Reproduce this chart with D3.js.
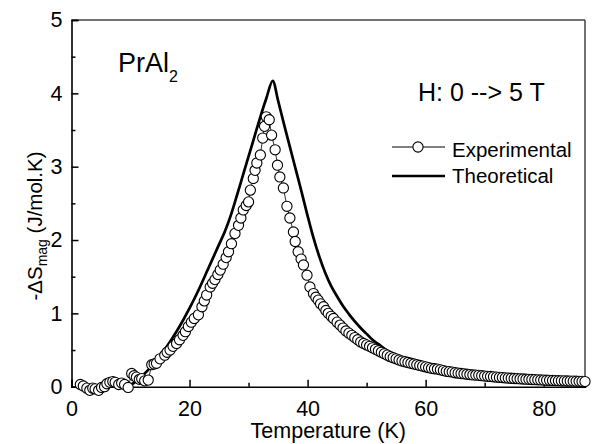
<!DOCTYPE html>
<html>
<head>
<meta charset="utf-8">
<script src="https://cdn.jsdelivr.net/npm/d3@7"></script>
<style>
  html, body { margin: 0; padding: 0; background: #fff; }
  svg { display: block; font-family: "Liberation Sans", Arial, sans-serif; }
</style>
</head>
<body>
<svg id="chart" width="592" height="444"></svg>
<script>
// ---------------- data ----------------
const expT = [1.5,2.0,2.6,3.1,3.6,4.0,4.6,5.1,5.6,6.0,6.5,7.0,7.4,8.0,8.5,9.0,9.6,10.2,10.6,11.0,11.5,11.9,12.4,13.0,
  13.6,14.0,14.4,15.0,15.8,16.2,16.7,17.2,17.8,18.3,18.9,19.3,19.8,20.3,20.8,21.5,22.1,22.5,22.9,23.5,23.9,24.3,24.8,25.2,25.7,26.2,26.6,27.1,27.7,
  28.3,28.7,29.1,29.6,30.0,30.3,30.8,31.1,31.4,32.0,32.4,32.7,33.0,33.5,33.9,34.5,34.9,35.3,35.9,36.5,37.0,
  37.6,37.9,38.4,38.9,39.3,39.9,40.4,41.0,41.4,41.8,42.2,42.7,43.1,43.5,44.0,44.4,45.0,45.5,
  46.0,46.5,47.0,47.5,48.0,48.5,49.0,49.5,50.0,50.5,51.0,51.5,52.0,52.5,53.0,53.5,54.0,54.5,55.0,55.5,56.0,56.5,57.0,57.5,58.0,58.5,59.0,59.5,60.0,60.5,
  61.0,61.5,62.0,62.5,63.0,63.5,64.0,64.5,65.0,65.5,66.0,66.5,67.0,67.5,68.0,68.5,69.0,69.5,70.0,70.5,71.0,71.5,72.0,72.5,73.0,73.5,74.0,74.5,75.0,75.5,
  76.0,76.5,77.0,77.5,78.0,78.5,79.0,79.5,80.0,80.5,81.0,81.5,82.0,82.5,83.0,83.5,84.0,84.5,85.0,85.5,86.0,86.5,87.0];
const expS = [0.03,0.01,-0.02,-0.05,-0.02,-0.03,-0.05,-0.01,0.0,0.04,0.06,0.07,0.06,0.03,0.05,0.03,-0.01,0.18,0.15,0.13,0.10,0.11,0.08,0.09,
  0.30,0.31,0.32,0.38,0.43,0.47,0.50,0.55,0.59,0.64,0.70,0.75,0.82,0.88,0.93,0.98,1.09,1.17,1.25,1.36,1.41,1.46,1.53,1.59,1.67,1.76,1.84,1.95,2.09,
  2.20,2.30,2.41,2.47,2.52,2.68,2.84,2.95,3.05,3.16,3.39,3.55,3.68,3.64,3.43,3.23,3.02,2.86,2.71,2.46,2.30,
  2.11,1.98,1.84,1.74,1.66,1.52,1.36,1.27,1.22,1.18,1.13,1.09,1.04,1.00,0.96,0.93,0.88,0.84,
  0.80,0.76,0.73,0.70,0.67,0.64,0.61,0.59,0.57,0.55,0.53,0.51,0.49,0.47,0.45,0.43,0.41,0.395,0.38,0.365,0.35,0.34,0.33,0.32,0.31,0.30,0.29,0.28,0.27,0.26,
  0.25,0.245,0.24,0.23,0.22,0.21,0.205,0.20,0.19,0.185,0.18,0.175,0.17,0.165,0.16,0.158,0.155,0.15,0.145,0.142,0.14,0.135,0.13,0.127,0.125,0.12,0.118,0.115,0.112,0.11,
  0.107,0.105,0.102,0.10,0.098,0.096,0.094,0.092,0.09,0.088,0.087,0.085,0.083,0.082,0.08,0.079,0.078,0.077,0.076,0.075,0.073,0.072,0.07];

const thT = [10,11,12,13,14,15,16,17,18,19,20,21,22,23,24,25,26,27,28,29,30,31,32,33,34.1,
  35,36,37,38,39,40,41,42,43,44,45,46,47,48,49,50,51,52,53,54,55,56,57,58,59,60,62,64,66,68,70,75,80,87];
const thS = [0.02,0.08,0.15,0.23,0.32,0.42,0.53,0.65,0.78,0.92,1.07,1.23,1.40,1.58,1.76,1.94,2.12,2.34,2.60,2.87,3.14,3.41,3.68,3.93,4.17,
  3.90,3.58,3.27,2.96,2.65,2.33,2.03,1.77,1.55,1.37,1.23,1.10,0.99,0.89,0.80,0.72,0.64,0.58,0.52,0.47,0.43,0.39,0.36,0.33,0.31,0.29,0.255,0.225,0.20,0.18,0.16,0.125,0.10,0.075];

const xMajor = [0,20,40,60,80];
const xMinor = [10,30,50,70];
const yMajor = [0,1,2,3,4,5];
const yMinor = [0.5,1.5,2.5,3.5,4.5];

// ---------------- layout ----------------
const svg = d3.select("#chart");
const L = 71.5, R = 585, T = 20, B = 386.7;
const x = d3.scaleLinear().domain([0, 87]).range([L, R]);
const y = d3.scaleLinear().domain([0, 5]).range([B, T]);

// frame top/right
svg.append("line").attr("x1", L).attr("x2", R).attr("y1", T).attr("y2", T)
  .attr("stroke", "#444").attr("stroke-width", 1.5);
svg.append("line").attr("x1", R).attr("x2", R).attr("y1", T).attr("y2", B)
  .attr("stroke", "#444").attr("stroke-width", 1.5);

// axes
function styleAxis(g) {
  g.select(".domain").attr("stroke", "#000").attr("stroke-width", 1.6);
  g.selectAll(".tick line").attr("stroke", "#000").attr("stroke-width", 1.5);
  g.selectAll(".tick text").attr("fill", "#000").attr("font-size", 21.5)
    .attr("font-family", '"Liberation Sans", Arial, sans-serif');
}
const gx = svg.append("g").attr("transform", `translate(0,${B})`)
  .call(d3.axisBottom(x).tickValues(xMajor).tickSize(-7).tickPadding(14).tickFormat(d3.format("d")));
styleAxis(gx);
const gxm = svg.append("g").attr("transform", `translate(0,${B})`)
  .call(d3.axisBottom(x).tickValues(xMinor).tickSize(-4).tickFormat(""));
styleAxis(gxm); gxm.select(".domain").remove();

const gy = svg.append("g").attr("transform", `translate(${L},0)`)
  .call(d3.axisLeft(y).tickValues(yMajor).tickSize(-7).tickPadding(9).tickFormat(d3.format("d")));
styleAxis(gy);
const gym = svg.append("g").attr("transform", `translate(${L},0)`)
  .call(d3.axisLeft(y).tickValues(yMinor).tickSize(-4).tickFormat(""));
styleAxis(gym); gym.select(".domain").remove();

// axis titles
svg.append("text").attr("x", (L + R) / 2).attr("y", 438).attr("text-anchor", "middle")
  .attr("font-size", 21.5).text("Temperature (K)");

const yt = svg.append("text").attr("transform", "translate(42,226) rotate(-90)")
  .attr("text-anchor", "middle").attr("font-size", 20.5);
yt.append("tspan").text("-\u0394S");
yt.append("tspan").attr("font-size", 14).attr("dy", 5).text("mag");
yt.append("tspan").attr("dy", -5).text(" (J/mol.K)");

// theoretical line
const thData = thT.map((t, i) => [t, thS[i]]);
svg.append("path").datum(thData)
  .attr("fill", "none").attr("stroke", "#000").attr("stroke-width", 2.7)
  .attr("stroke-linejoin", "round")
  .attr("d", d3.line().x(d => x(d[0])).y(d => y(d[1])).curve(d3.curveMonotoneX));

// experimental
const exData = expT.map((t, i) => [t, expS[i]]);
svg.append("path").datum(exData)
  .attr("fill", "none").attr("stroke", "#000").attr("stroke-width", 0.8)
  .attr("d", d3.line().x(d => x(d[0])).y(d => y(d[1])));
svg.append("g").selectAll("circle").data(exData).join("circle")
  .attr("cx", d => x(d[0])).attr("cy", d => y(d[1])).attr("r", 5.1)
  .attr("fill", "#fff").attr("stroke", "#000").attr("stroke-width", 1.1);

// annotations
const pr = svg.append("text").attr("x", 118).attr("y", 72).attr("font-size", 27);
pr.append("tspan").text("PrAl");
pr.append("tspan").attr("font-size", 16).attr("dy", 10).text("2");

svg.append("text").attr("x", 418).attr("y", 101).attr("font-size", 25).text("H: 0 --> 5 T");

// legend
svg.append("line").attr("x1", 392).attr("x2", 445).attr("y1", 147).attr("y2", 147)
  .attr("stroke", "#000").attr("stroke-width", 1);
svg.append("circle").attr("cx", 418).attr("cy", 147).attr("r", 5.1)
  .attr("fill", "#fff").attr("stroke", "#000").attr("stroke-width", 1.1);
svg.append("text").attr("x", 452).attr("y", 157).attr("font-size", 20.5).text("Experimental");
svg.append("line").attr("x1", 392).attr("x2", 445).attr("y1", 176).attr("y2", 176)
  .attr("stroke", "#000").attr("stroke-width", 2.7);
svg.append("text").attr("x", 452).attr("y", 183).attr("font-size", 20.5).text("Theoretical");
</script>
</body>
</html>
